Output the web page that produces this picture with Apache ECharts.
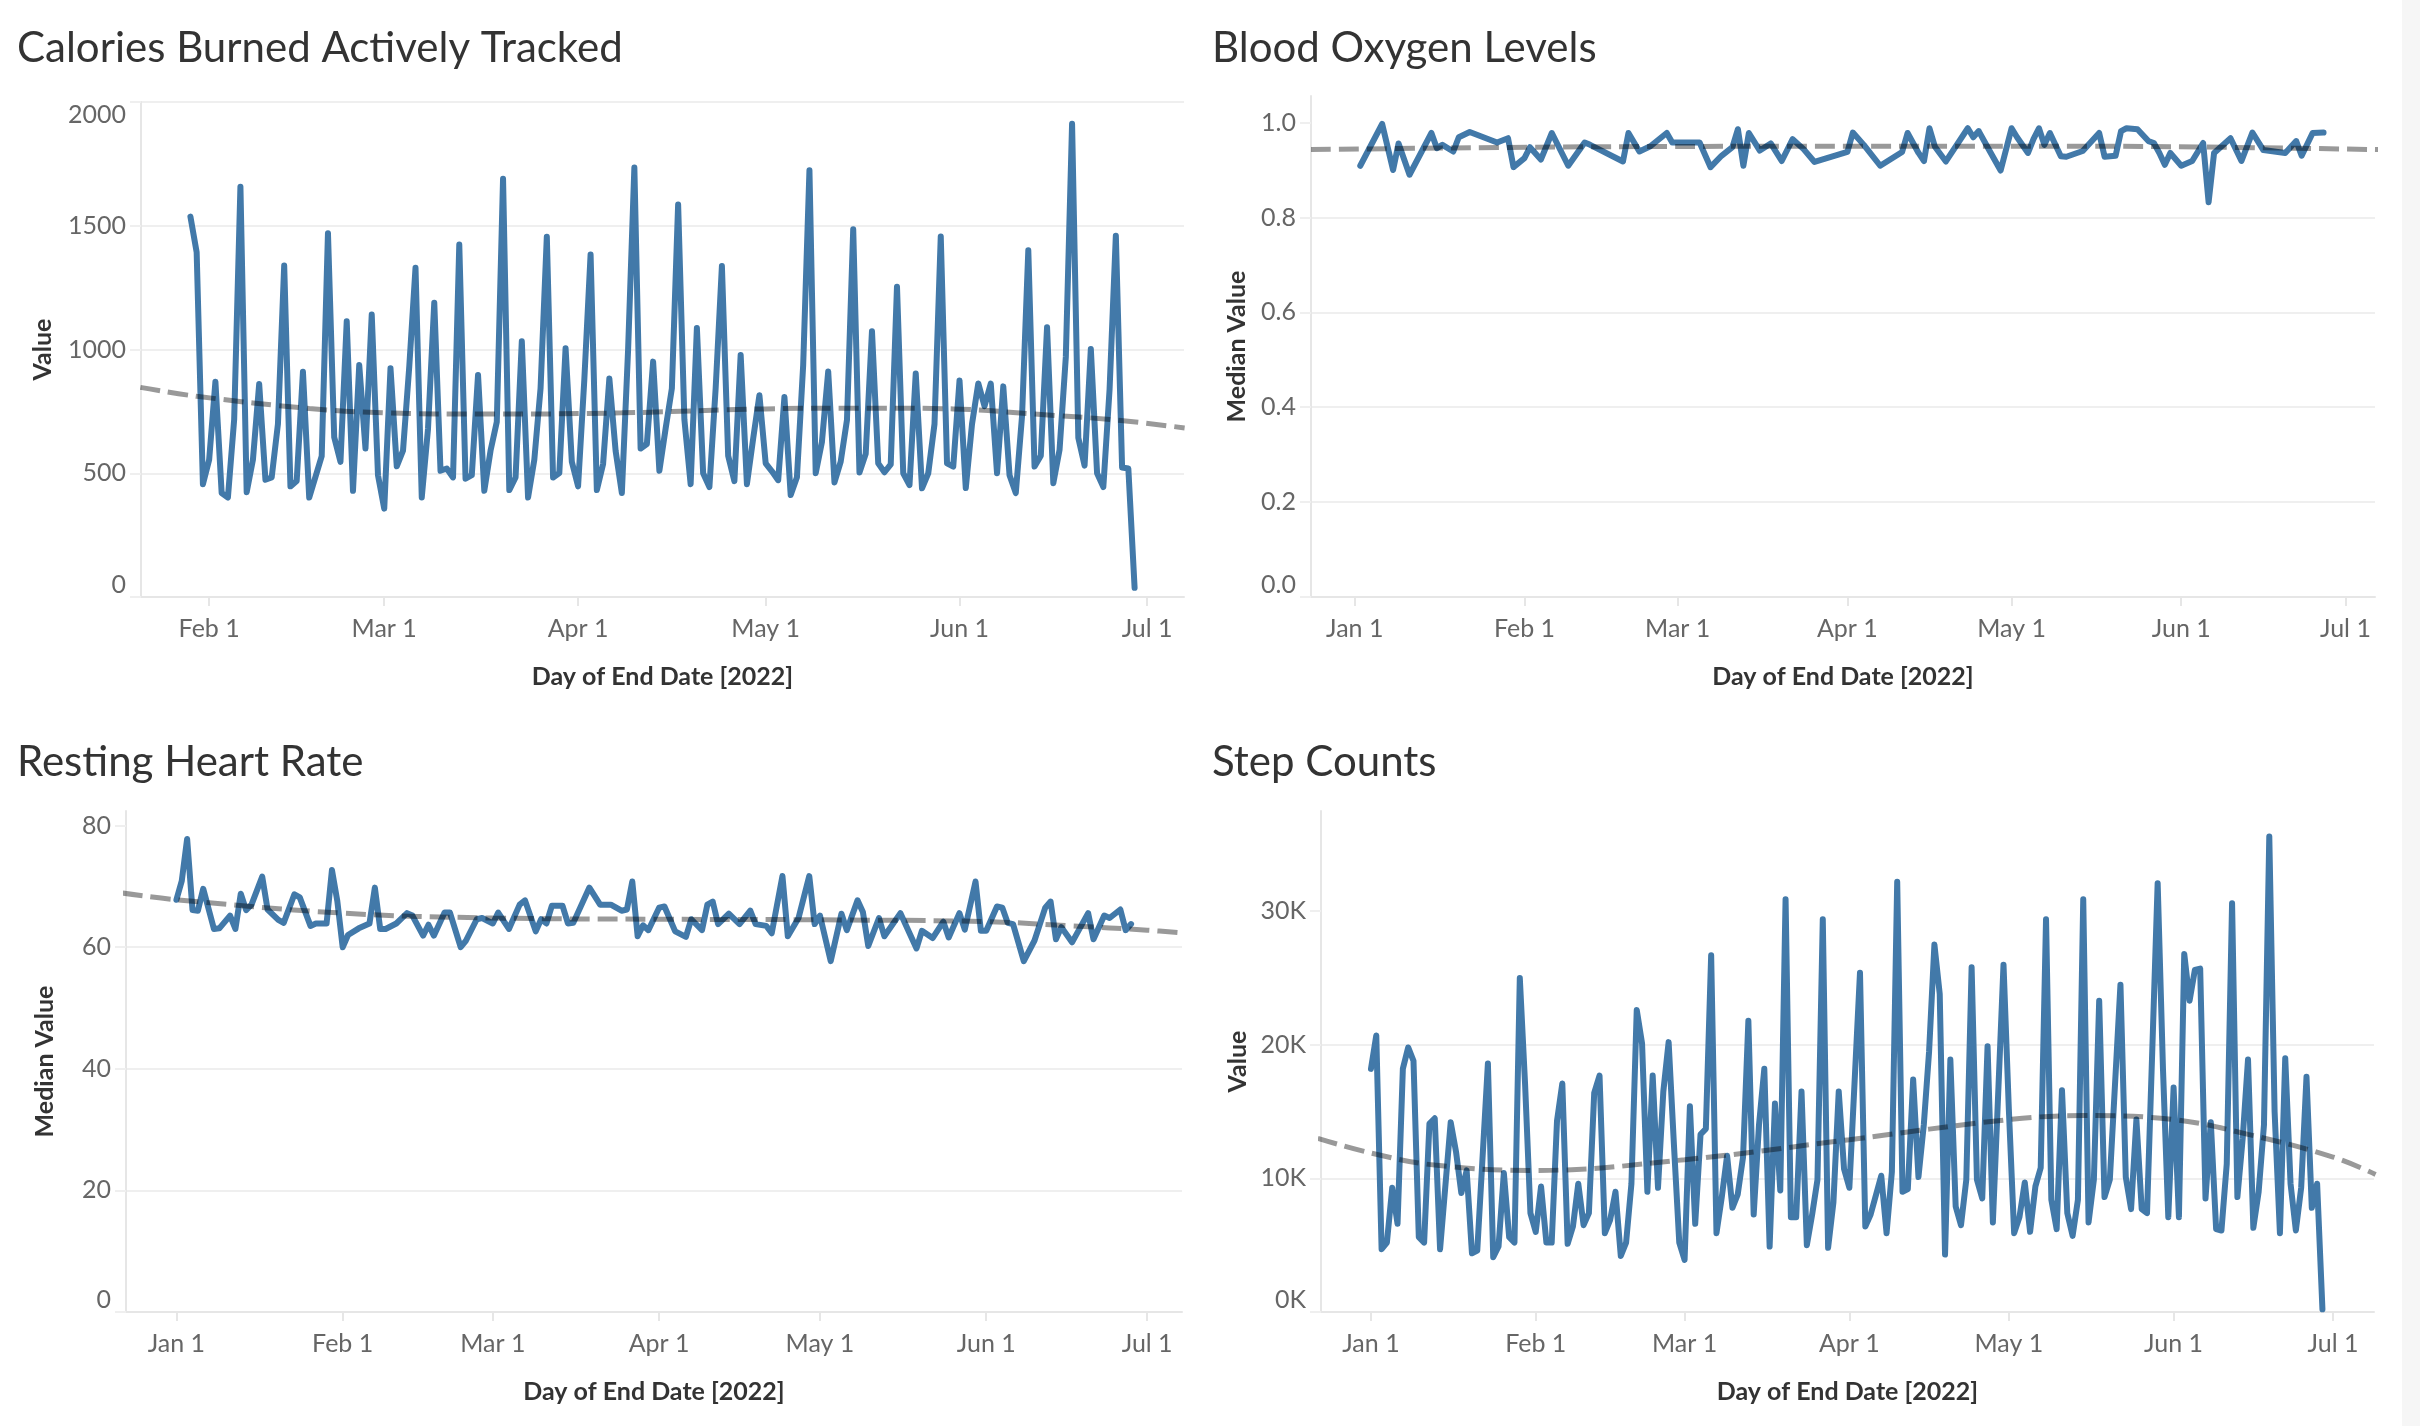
<!DOCTYPE html>
<html><head><meta charset="utf-8">
<script src="https://cdn.jsdelivr.net/npm/echarts@6/dist/echarts.min.js"></script>
<style>html,body{margin:0;padding:0;background:#fff;overflow:hidden}#c{width:2420px;height:1426px}#band{position:absolute;left:2402px;top:0;width:18px;height:1426px;background:#f6f6f6}</style>
</head><body><div id="c"></div><div id="band"></div>
<script>
// ---------- DATA ----------
const titles = ['Calories Burned Actively Tracked', 'Blood Oxygen Levels', 'Resting Heart Rate', 'Step Counts'];
const yNames = ['Value', 'Median Value', 'Median Value', 'Value'];
const xName = 'Day of End Date [2022]';

// Calories Burned Actively Tracked (daily)
const calDates = ['01-29','01-30','01-31','02-01','02-02','02-03','02-04','02-05','02-06','02-07','02-08','02-09','02-10','02-11','02-12','02-13','02-14','02-15','02-16','02-17','02-18','02-19','02-20','02-21','02-22','02-23','02-24','02-25','02-26','02-27','02-28',
'03-01','03-02','03-03','03-04','03-05','03-06','03-07','03-08','03-09','03-10','03-11','03-12','03-13','03-14','03-15','03-16','03-17','03-18','03-19','03-20','03-21','03-22','03-23','03-24','03-25','03-26','03-27','03-28','03-29','03-30','03-31',
'04-01','04-02','04-03','04-04','04-05','04-06','04-07','04-08','04-09','04-10','04-11','04-12','04-13','04-14','04-15','04-16','04-17','04-18','04-19','04-20','04-21','04-22','04-23','04-24','04-25','04-26','04-27','04-28','04-29','04-30',
'05-01','05-02','05-03','05-04','05-05','05-06','05-07','05-08','05-09','05-10','05-11','05-12','05-13','05-14','05-15','05-16','05-17','05-18','05-19','05-20','05-21','05-22','05-23','05-24','05-25','05-26','05-27','05-28','05-29','05-30','05-31',
'06-01','06-02','06-03','06-04','06-05','06-06','06-07','06-08','06-09','06-10','06-11','06-12','06-13','06-14','06-15','06-16','06-17','06-18','06-19','06-20','06-21','06-22','06-23','06-24','06-25','06-26','06-27','06-28','06-29'];
const calValues = [1537,1393,456,555,870,420,402,717,1658,423,555,861,474,483,699,1339,447,469,910,402,485,569,1470,645,546,1114,429,937,600,1141,492,
357,924,528,591,930,1330,402,680,1189,510,519,483,1424,478,492,897,429,591,708,1690,432,483,1033,402,555,843,1456,483,501,1005,546,
447,879,1384,432,537,883,591,420,1000,1735,600,618,951,510,681,843,1586,717,456,1087,500,444,843,1337,571,468,978,456,640,815,
540,508,472,808,412,484,938,1724,500,627,911,463,547,715,1486,503,579,1074,540,504,536,1254,500,452,903,439,500,699,1457,540,527,
875,440,699,863,771,862,500,851,492,420,731,1401,527,571,1090,460,595,970,1912,643,531,1002,500,444,840,1460,523,519,37];
const calTrendDates = ['01-21','01-30','02-17','03-01','03-18','04-08','05-01','05-18','05-31','06-13','06-26','07-07'];
const calTrendValues = [847,811,762,744,739,744,760,763,760,739,715,683];

// Blood Oxygen Levels (median)
const boDates = ['01-02','01-06','01-08','01-09','01-11','01-15','01-16','01-17','01-19','01-20','01-22','01-27','01-29','01-30','02-01','02-02','02-04','02-06','02-09','02-12','02-13','02-19','02-20','02-22','02-24','02-27','02-28',
'03-05','03-07','03-09','03-11','03-12','03-13','03-14','03-16','03-18','03-20','03-22','03-24','03-26','04-01','04-02','04-04','04-07','04-11','04-12','04-14','04-15','04-16','04-17','04-19','04-23','04-24','04-25','04-27','04-29',
'05-01','05-02','05-04','05-05','05-06','05-07','05-08','05-10','05-11','05-14','05-17','05-18','05-20','05-21','05-22','05-24','05-26','05-27','05-28','05-29','05-30',
'06-01','06-03','06-05','06-06','06-07','06-10','06-12','06-14','06-16','06-20','06-22','06-23','06-25','06-27'];
const boValues = [0.909,0.997,0.900,0.956,0.890,0.978,0.946,0.953,0.939,0.969,0.980,0.958,0.967,0.906,0.925,0.948,0.922,0.978,0.909,0.958,0.953,0.918,0.978,0.939,0.950,0.978,0.958,
0.958,0.906,0.930,0.948,0.986,0.909,0.978,0.941,0.956,0.919,0.965,0.944,0.917,0.938,0.979,0.953,0.909,0.938,0.978,0.936,0.919,0.988,0.949,0.918,0.988,0.969,0.982,0.940,0.899,
0.988,0.969,0.936,0.965,0.988,0.953,0.978,0.929,0.928,0.940,0.978,0.928,0.930,0.982,0.988,0.986,0.961,0.957,0.936,0.911,0.936,
0.909,0.919,0.957,0.832,0.936,0.967,0.919,0.979,0.942,0.936,0.961,0.930,0.978,0.979];
const boTrendDates = ['2021-12-24','02-15','04-01','05-15','06-15','07-07'];
const boTrendValues = [0.943,0.949,0.950,0.950,0.947,0.943];

// Resting Heart Rate (median)
const hrDates = ['01-01','01-02','01-03','01-04','01-05','01-06','01-08','01-09','01-11','01-12','01-13','01-14','01-15','01-17','01-18','01-20','01-21','01-23','01-24','01-26','01-27','01-29','01-30','01-31',
'02-01','02-02','02-04','02-06','02-07','02-08','02-09','02-11','02-13','02-14','02-16','02-17','02-18','02-20','02-21','02-23','02-24','02-26','02-27',
'03-01','03-02','03-04','03-06','03-07','03-09','03-10','03-11','03-12','03-14','03-15','03-16','03-19','03-21','03-23','03-25','03-26','03-27','03-28','03-29','03-30',
'04-01','04-02','04-04','04-06','04-07','04-09','04-10','04-11','04-12','04-14','04-16','04-18','04-19','04-21','04-22','04-24','04-25','04-27','04-29','04-30',
'05-01','05-03','05-05','05-06','05-08','05-09','05-10','05-12','05-13','05-16','05-19','05-20','05-22','05-24','05-25','05-27','05-28','05-30','05-31',
'06-01','06-03','06-04','06-05','06-06','06-08','06-10','06-12','06-13','06-14','06-15','06-17','06-20','06-21','06-23','06-24','06-26','06-27','06-28'];
const hrValues = [67.8,70.9,77.8,66.1,66.0,69.6,63.0,63.1,65.2,63.0,68.8,66.1,67.0,71.6,66.2,64.5,64.0,68.7,68.2,63.5,63.9,63.9,72.7,67.6,
60.0,62.0,63.1,63.9,69.8,63.0,63.0,63.9,65.6,65.2,61.9,63.7,61.9,65.7,65.7,60.0,61.1,64.6,64.8,
63.9,65.7,63.0,67.0,67.7,62.6,64.6,63.9,66.8,66.8,63.9,64.0,69.8,67.0,67.0,66.0,66.2,70.8,61.8,63.6,62.8,
66.5,66.7,62.6,61.7,64.6,62.8,67.0,67.5,63.8,65.5,63.8,66.0,63.8,63.5,62.3,71.7,61.8,64.8,71.7,63.8,
65.2,57.7,65.5,62.8,67.7,65.8,60.2,64.8,61.8,65.6,59.8,62.7,61.5,64.2,61.6,65.6,62.9,70.8,62.7,
62.7,66.7,66.5,64.0,63.8,57.7,61.1,66.5,67.5,61.3,63.3,60.8,65.6,61.3,65.2,64.8,66.2,62.8,63.8];
const hrTrendDates = ['2021-12-22','01-01','02-01','03-01','04-01','05-01','06-01','06-17','07-01','07-08'];
const hrTrendValues = [68.9,67.8,65.6,64.8,64.6,64.5,64.2,63.5,62.8,62.3];

// Step Counts
const stDates = ['01-01','01-02','01-03','01-04','01-05','01-06','01-07','01-08','01-09','01-10','01-11','01-12','01-13','01-14','01-16','01-17','01-18','01-19','01-20','01-21','01-23','01-24','01-25','01-26','01-27','01-28','01-29','01-30','01-31',
'02-01','02-02','02-03','02-04','02-05','02-06','02-07','02-08','02-09','02-10','02-11','02-12','02-13','02-14','02-15','02-16','02-17','02-18','02-19','02-20','02-21','02-22','02-23','02-24','02-25','02-26','02-27','02-28',
'03-01','03-02','03-03','03-04','03-05','03-06','03-07','03-08','03-09','03-10','03-11','03-12','03-13','03-14','03-15','03-16','03-17','03-18','03-19','03-20','03-21','03-22','03-23','03-24','03-25','03-26','03-27','03-28','03-29','03-30','03-31',
'04-01','04-03','04-04','04-05','04-07','04-08','04-09','04-10','04-11','04-12','04-13','04-14','04-15','04-16','04-17','04-18','04-19','04-20','04-21','04-22','04-23','04-24','04-25','04-26','04-27','04-28','04-30',
'05-01','05-02','05-03','05-04','05-05','05-06','05-07','05-08','05-09','05-10','05-11','05-12','05-13','05-14','05-15','05-16','05-17','05-18','05-19','05-20','05-22','05-23','05-24','05-25','05-26','05-27','05-29','05-30','05-31',
'06-01','06-02','06-03','06-04','06-05','06-06','06-07','06-08','06-09','06-10','06-11','06-12','06-13','06-14','06-15','06-16','06-17','06-18','06-19','06-20','06-21','06-22','06-23','06-24','06-25','06-26','06-27','06-28','06-29'];
const stValues = [18200,20700,4700,5200,9300,6600,18200,19800,18800,5600,5200,14100,14500,4700,14200,12000,8900,10600,4400,4600,18600,4100,4900,10400,5600,5200,25000,17000,7400,
6000,9400,5200,5200,14300,17100,5100,6400,9600,6500,7400,16400,17700,5900,6900,9000,4200,5200,9600,22600,20100,9000,17700,9300,16500,20200,12500,5200,
3900,15400,6600,13300,13700,26700,5900,8600,11700,7800,8800,11600,21800,7300,14000,18200,4900,15600,9100,30900,7100,7100,16500,5000,7300,9900,29400,4800,8200,16500,10700,
9300,25400,6400,7300,10200,5900,10500,32200,9000,9200,17400,10100,14000,19500,27500,23800,4300,18900,7900,6500,9900,25800,9900,8500,19900,6700,26000,
15200,5900,7100,9700,6000,9400,10800,29400,8400,6200,16600,7400,5700,8400,30900,6700,9900,23300,8600,9900,24500,10100,7700,14400,7700,7400,32100,18200,7100,
16800,7100,26800,23300,25600,25700,8500,14200,6200,6100,11100,30600,8600,13000,18900,6300,9000,14000,35600,15000,5900,19000,9600,6100,9300,17600,7800,9600,200];
const stTrendDates = ['2021-12-22','01-01','01-13','02-01','03-01','04-01','05-01','05-15','06-01','06-15','07-01','07-09'];
const stTrendValues = [13000,11900,11000,10600,11400,12900,14400,14700,14400,13300,11600,10300];

// Axis tick dates (month starts) and value ticks
const calMonthTicks = ['02-01','03-01','04-01','05-01','06-01','07-01'];
const monthTicks = ['01-01','02-01','03-01','04-01','05-01','06-01','07-01'];
const calYTicks = [0,500,1000,1500,2000];
const boYTicks = [0,0.2,0.4,0.6,0.8,1.0];
const hrYTicks = [0,20,40,60,80];
const stYTicks = [0,10000,20000,30000];
const MONTHS = ['Jan','Feb','Mar','Apr','May','Jun','Jul','Aug','Sep','Oct','Nov','Dec'];

// ---------- BUILD ----------
const DAY = 864e5;
const ts = s => { const full = s.length === 5 ? '2022-' + s : s; const [y,m,d] = full.split('-').map(Number); return Date.UTC(y, m-1, d); };
const pairs = (ds, vs) => ds.map((d,i) => [ts(d), vs[i]]);
const FONT = 'Lato, "Noto Sans", sans-serif';
const BLUE = '#4279a9';
const GRID_C = '#efefef';
const AXIS_C = '#e6e6e6';

const panels = [
  {title: titles[0], tx: 17, ty: 25, grid: {left:141, top:102, width:1043, height:495},
   xmin: ts('01-21') + 0.1*DAY, xmax: ts('07-06') + 0.9*DAY, xticks: calMonthTicks,
   ymax: 2000, yint: 500, yticks: calYTicks, yfmt: v => String(v), gap: 86, topLabelTop: true,
   data: pairs(calDates, calValues), trend: pairs(calTrendDates, calTrendValues)},
  {title: titles[1], tx: 1212, ty: 25, grid: {left:1311, top:96, width:1064, height:501},
   xmin: ts('2021-12-24'), xmax: ts('07-06') + 0.4*DAY, xticks: monthTicks,
   ymax: 1.056, yint: 0.2, yticks: boYTicks, yfmt: v => v.toFixed(1), gap: 62,
   data: pairs(boDates, boValues), trend: pairs(boTrendDates, boTrendValues)},
  {title: titles[2], tx: 17, ty: 739, grid: {left:126, top:811, width:1056, height:501},
   xmin: ts('2021-12-22') + 0.6*DAY, xmax: ts('07-07') + 0.5*DAY, xticks: monthTicks,
   ymax: 82.4, yint: 20, yticks: hrYTicks, yfmt: v => String(v), gap: 69,
   data: pairs(hrDates, hrValues), trend: pairs(hrTrendDates, hrTrendValues)},
  {title: titles[3], tx: 1212, ty: 739, grid: {left:1321, top:811, width:1053, height:501},
   xmin: ts('2021-12-22') + 0.6*DAY, xmax: ts('07-08') + 0.7*DAY, xticks: monthTicks,
   ymax: 37500, yint: 10000, yticks: stYTicks, yfmt: v => (v/1000) + 'K', gap: 71,
   data: pairs(stDates, stValues), trend: pairs(stTrendDates, stTrendValues)}
];

const option = {
  animation: false, backgroundColor: '#fff',
  textStyle: {fontFamily: FONT},
  title: panels.map(p => ({text: p.title, left: p.tx, top: p.ty, padding: 0,
    textStyle: {fontFamily: FONT, fontSize: 42, fontWeight: 'normal', color: '#333', lineHeight: 46}})),
  grid: panels.map(p => Object.assign({containLabel: false, outerBoundsMode: 'none'}, p.grid)),
  xAxis: panels.map((p, i) => ({
    type: 'value', gridIndex: i, min: p.xmin, max: p.xmax, scale: true,
    name: xName, nameLocation: 'middle', nameGap: 67,
    nameTextStyle: {fontFamily: FONT, fontSize: 25, fontWeight: 'bold', color: '#333'},
    axisLine: {show: true, onZero: false, lineStyle: {color: AXIS_C, width: 2}},
    axisTick: {show: true, length: 9, customValues: p.xticks.map(ts), lineStyle: {color: AXIS_C, width: 2}},
    splitLine: {show: false},
    axisLabel: {customValues: p.xticks.map(ts), margin: 19, fontFamily: FONT, fontSize: 25, color: '#666',
      showMinLabel: true, showMaxLabel: true,
      formatter: v => { const d = new Date(v); return MONTHS[d.getUTCMonth()] + ' ' + d.getUTCDate(); }}
  })),
  yAxis: panels.map((p, i) => ({
    type: 'value', gridIndex: i, min: 0, max: p.ymax, interval: p.yint,
    name: yNames[i], nameLocation: 'middle', nameGap: p.gap,
    nameTextStyle: {fontFamily: FONT, fontSize: 25, fontWeight: 'bold', color: '#333'},
    axisLine: {show: true, lineStyle: {color: AXIS_C, width: 2}},
    axisTick: {show: true, length: 11, customValues: p.yticks, lineStyle: {color: GRID_C, width: 2}},
    splitLine: {show: true, showMaxLine: !!p.topLabelTop, lineStyle: {color: GRID_C, width: 2}},
    axisLabel: {margin: 15, fontFamily: FONT, fontSize: 25, color: '#666', formatter: p.yfmt,
      showMaxLabel: !!p.topLabelTop, verticalAlignMinLabel: 'bottom',
      verticalAlignMaxLabel: p.topLabelTop ? 'top' : 'middle'}
  })),
  series: panels.flatMap((p, i) => [
    {type: 'line', xAxisIndex: i, yAxisIndex: i, data: p.data, showSymbol: false, symbol: 'none',
     lineStyle: {color: BLUE, width: 6, join: 'round', cap: 'round'}, z: 2, silent: true},
    {type: 'line', xAxisIndex: i, yAxisIndex: i, data: p.trend, smooth: 0.4, showSymbol: false, symbol: 'none',
     lineStyle: {color: 'rgba(0,0,0,0.4)', width: 5, type: [20, 8]}, z: 3, silent: true}
  ])
};
const chart = echarts.init(document.getElementById('c'), null, {renderer: 'canvas'});
chart.setOption(option);
</script></body></html>
